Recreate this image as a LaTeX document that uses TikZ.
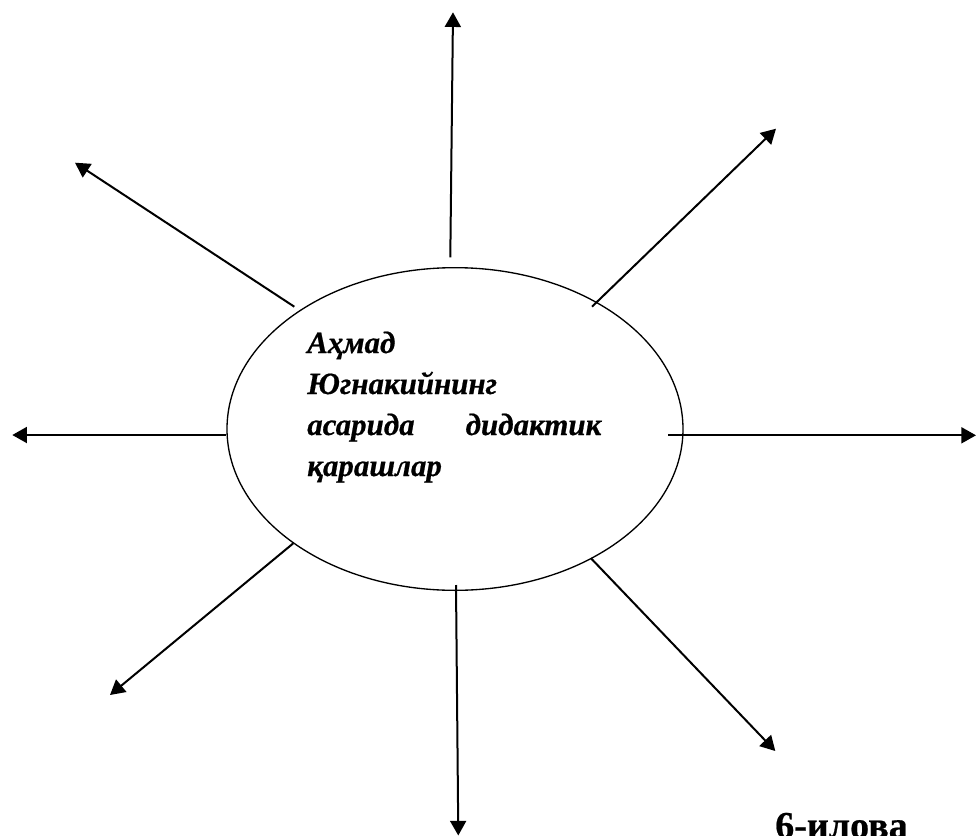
\documentclass[tikz,border=0pt]{standalone}
\usepackage{fontspec}
\setmainfont{Liberation Serif}
\newfontfamily\heavyfont[FakeBold=0.6]{Liberation Serif}
\usetikzlibrary{arrows.meta,shapes.geometric}
\begin{document}
\begin{tikzpicture}[x=0.75pt,y=-0.75pt,
  ray/.style={line width=1.5pt,-{Triangle[length=11pt,width=12pt]}},
  oval/.style={draw,ellipse,line width=1pt,inner sep=0pt,minimum width=342pt,minimum height=242pt},
  ltxt/.style={anchor=base west,inner sep=0pt,font=\heavyfont\fontsize{23.2pt}{31.5pt}\selectfont\bfseries\itshape}]
\useasboundingbox (0,0) rectangle (976,836);
\node[oval] (E) at (455,429) {};
\node[ltxt] (t1) at (307,353) {Аҳмад};
\node[ltxt] (t2) at (307,394) {Югнакийнинг};
\node[ltxt] (t3) at (307,435) {\makebox[220.5pt][s]{асарида\hfill дидактик}};
\node[ltxt] (t4) at (307,476) {қарашлар};
\node[anchor=base west,inner sep=0pt,font=\heavyfont\fontsize{28.5pt}{34pt}\selectfont\bfseries] (lbl) at (775,838) {6-илова};
% ray ends
\coordinate (s1) at (450.3,257.3); \coordinate (e1) at (453,12.3);
\coordinate (s2) at (592,306.7);   \coordinate (e2) at (776,128.7);
\coordinate (s3) at (668.3,435.3); \coordinate (e3) at (976,435.3);
\coordinate (s4) at (591,558.3);   \coordinate (e4) at (775.3,751);
\coordinate (s5) at (456,585);     \coordinate (e5) at (458.3,835.5);
\coordinate (s6) at (293.3,543.3); \coordinate (e6) at (110,695);
\coordinate (s7) at (225.7,435);   \coordinate (e7) at (12.3,435);
\coordinate (s8) at (294.3,306.7); \coordinate (e8) at (75,162.7);
\foreach \i in {1,...,8} {\draw[ray] (s\i) -- (e\i);}
\end{tikzpicture}
\end{document}
